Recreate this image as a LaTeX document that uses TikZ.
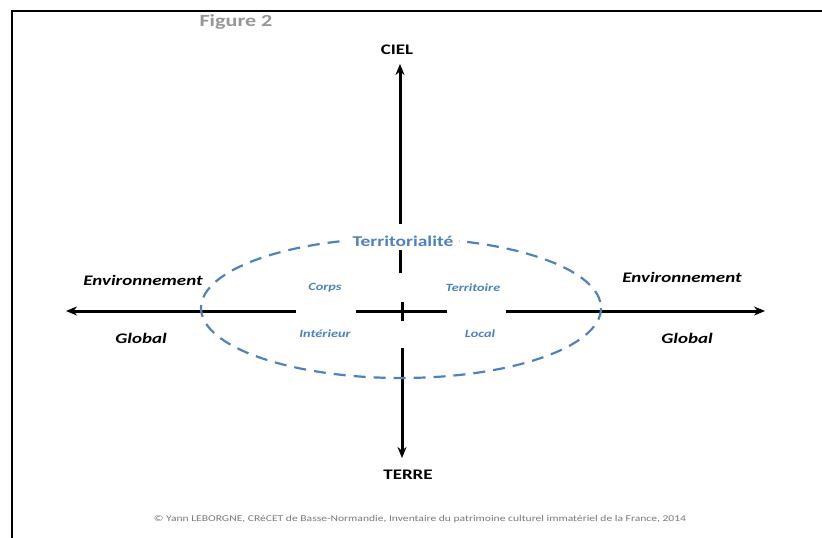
\documentclass[tikz,border=0pt]{standalone}
\usepackage{fontspec}
\setmainfont[FakeStretch=1.3]{Carlito}
\usetikzlibrary{arrows.meta}
\definecolor{obl}{RGB}{79,129,189}
\definecolor{figgray}{RGB}{150,150,150}
\definecolor{footgray}{RGB}{120,120,120}
\tikzset{
  axis/.style={line width=3pt,black},
  axarrow/.style={axis,-{Stealth[length=11pt,width=9pt]}},
  env/.style={font=\fontsize{14.6}{16}\selectfont\bfseries\itshape,inner sep=0pt},
  pole/.style={font=\fontsize{14.6}{16}\selectfont\bfseries,inner sep=0pt},
  inner/.style={font=\fontsize{11}{13}\selectfont\bfseries\itshape,text=obl,inner sep=0pt},
  terr/.style={font=\fontsize{15}{17}\selectfont\bfseries,text=obl,inner sep=0pt},
}
\begin{document}
\begin{tikzpicture}[x=1pt,y=-1pt]
\useasboundingbox (0,0) rectangle (822,538);
% frame
\draw[line width=2.6pt] (12,538) -- (12,11) -- (822,11);
\node[font=\fontsize{17}{19}\selectfont\bfseries,text=figgray,inner sep=0pt] (fig) at (236,22) {Figure 2};
% poles
\node[pole] (ciel) at (397,50) {CIEL};
\node[pole] (terre) at (408,475) {TERRE};
% vertical axis coordinates
\coordinate (vtop) at (400,64);
\coordinate (v1) at (400,224);
\coordinate (v2) at (400,250);
\coordinate (v3) at (400,273);
\coordinate (v4) at (402,302);
\coordinate (v5) at (402,321);
\coordinate (v6) at (402,348);
\coordinate (vbot) at (402,458);
\draw[axarrow] (v1) -- (vtop);
\draw[axis] (v2) -- (v3);
\draw[axis] (v4) -- (v5);
\draw[axarrow] (v6) -- (vbot);
% horizontal axis
\coordinate (hl) at (66,311);
\coordinate (h1) at (296,311);
\coordinate (h2) at (356,311);
\coordinate (h3) at (447,311);
\coordinate (h4) at (506,311);
\coordinate (hr) at (765,311);
\draw[axarrow] (h1) -- (hl);
\draw[axis] (h2) -- (h3);
\draw[axarrow] (h4) -- (hr);
% ellipse
\draw[obl,line width=2.2pt,dash pattern=on 12pt off 8pt] (401,308) ellipse [x radius=200, y radius=70];
% labels
\node[terr,fill=white,inner xsep=6pt,inner ysep=3pt] (terrlab) at (403,241) {Territorialité};
\node[inner] (corps) at (325,288) {Corps};
\node[inner] (territoire) at (473,288) {Territoire};
\node[inner] (interieur) at (325,334) {Intérieur};
\node[inner] (local) at (480,334) {Local};
\node[env] (envl) at (143,280) {Environnement};
\node[env] (globl) at (141,338) {Global};
\node[env] (envr) at (682,277) {Environnement};
\node[env] (globr) at (687,338) {Global};
\node[font=\fontsize{8.9}{10}\selectfont,text=footgray,inner sep=0pt] (foot) at (420,519) {© Yann LEBORGNE, CRéCET de Basse-Normandie, Inventaire du patrimoine culturel immatériel de la France, 2014};
\end{tikzpicture}
\end{document}
